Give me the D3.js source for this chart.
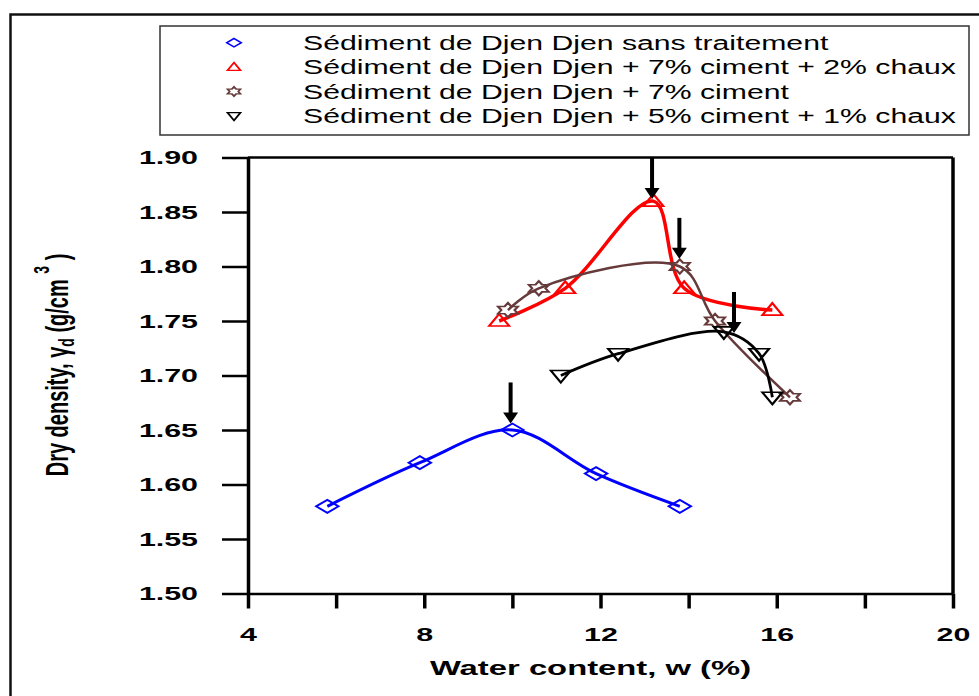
<!DOCTYPE html>
<html lang="en">
<head>
  <meta charset="UTF-8">
  <title>Dry density vs water content</title>
  <script src="https://d3js.org/d3.v7.min.js"></script>
  <style>
    body { margin: 0; background: #fff; }
    text { font-family: "Liberation Sans", Arial, sans-serif; }
  </style>
</head>
<body>
  <div id="chart-container"></div>

  <script>
    // Data
    const seriesNames = [
      'Sédiment de Djen Djen sans traitement',
      'Sédiment de Djen Djen + 7% ciment + 2% chaux',
      'Sédiment de Djen Djen + 7% ciment',
      'Sédiment de Djen Djen + 5% ciment + 1% chaux'
    ];
    const waterBlue = [5.8, 7.9, 10.0, 11.9, 13.8];
    const densBlue = [1.58, 1.62, 1.65, 1.61, 1.58];
    const waterRed = [9.7, 11.2, 13.2, 13.9, 15.9];
    const densRed = [1.75, 1.78, 1.86, 1.78, 1.76];
    const waterBrown = [9.9, 10.6, 13.8, 14.6, 16.3];
    const densBrown = [1.76, 1.78, 1.80, 1.75, 1.68];
    const waterBlack = [11.1, 12.4, 14.8, 15.6, 15.9];
    const densBlack = [1.70, 1.72, 1.74, 1.72, 1.68];

    // optimum arrows (x position and tip value)
    const arrowWater = [9.96, 13.17, 13.79, 15.03];
    const arrowDens = [1.656, 1.862, 1.807, 1.739];

    const xTicks = [4, 6, 8, 10, 12, 14, 16, 18, 20];
    const xLabels = [4, 8, 12, 16, 20];
    const yTicks = [1.50, 1.55, 1.60, 1.65, 1.70, 1.75, 1.80, 1.85, 1.90];

    const width = 979;
    const height = 696;
    const stretch = 1.6; // the original figure is stretched horizontally

    const svg = d3.select('#chart-container')
      .append('svg')
      .attr('width', width)
      .attr('height', height);

    svg.append('rect').attr('width', width).attr('height', height).attr('fill', '#fff');

    // outer frame (open to the right and bottom)
    svg.append('rect')
      .attr('x', 10.5).attr('y', 14.5)
      .attr('width', 1200).attr('height', 1200)
      .attr('fill', 'none').attr('stroke', '#111').attr('stroke-width', 2.5);

    const xScale = d3.scaleLinear().domain([4, 20]).range([248, 953]);
    const yScale = d3.scaleLinear().domain([1.5, 1.9]).range([593.5, 157.5]);

    // frame top / right
    svg.append('line')
      .attr('x1', xScale(4)).attr('x2', xScale(20))
      .attr('y1', yScale(1.9)).attr('y2', yScale(1.9))
      .attr('stroke', '#000').attr('stroke-width', 2.5);
    svg.append('line')
      .attr('x1', xScale(20)).attr('x2', xScale(20))
      .attr('y1', yScale(1.9)).attr('y2', yScale(1.5))
      .attr('stroke', '#000').attr('stroke-width', 3.5);

    // x axis
    const xAxis = svg.append('g')
      .attr('transform', `translate(0,${yScale(1.5)})`)
      .call(d3.axisBottom(xScale)
        .tickValues(xTicks)
        .tickSize(15)
        .tickSizeOuter(0)
        .tickPadding(19)
        .tickFormat(d => xLabels.includes(d) ? d : ''));
    xAxis.select('.domain').attr('stroke-width', 2.5);
    xAxis.selectAll('.tick line').attr('stroke-width', 3.5);
    xAxis.selectAll('.tick text')
      .attr('font-size', 19)
      .attr('font-weight', 'bold')
      .attr('fill', '#000')
      .attr('transform', `scale(${stretch},1)`);

    // y axis
    const yAxis = svg.append('g')
      .attr('transform', `translate(${xScale(4)},0)`)
      .call(d3.axisLeft(yScale)
        .tickValues(yTicks)
        .tickSize(26)
        .tickSizeOuter(0)
        .tickFormat(d3.format('.2f')));
    yAxis.select('.domain').attr('stroke-width', 3.5);
    yAxis.selectAll('.tick line').attr('stroke-width', 2.5);
    yAxis.selectAll('.tick text')
      .attr('font-size', 19)
      .attr('font-weight', 'bold')
      .attr('fill', '#000')
      .attr('x', -50 / stretch)
      .attr('transform', `scale(${stretch},1)`);

    // axis titles
    svg.append('text')
      .attr('transform', `translate(${(xScale(4) + xScale(20)) / 2 - 10},675) scale(1.64,1)`)
      .attr('text-anchor', 'middle')
      .attr('font-size', 20)
      .attr('font-weight', 'bold')
      .text('Water content, w (%)');

    const yTitle = svg.append('text')
      .attr('transform', `translate(68,365) scale(${stretch},1) rotate(-90)`)
      .attr('text-anchor', 'middle')
      .attr('font-size', 20)
      .attr('font-weight', 'bold');
    yTitle.append('tspan').text('Dry density, γ');
    yTitle.append('tspan').attr('font-size', 14).attr('dy', 4).text('d');
    yTitle.append('tspan').attr('dy', -4).text(' (g/cm ');
    yTitle.append('tspan').attr('font-size', 14).attr('dy', -12).text('3');
    yTitle.append('tspan').attr('dy', 12).text(' )');

    // marker shapes
    function hexagram(r) {
      const pts = [];
      for (let i = 0; i < 12; i++) {
        const a = -Math.PI / 2 + i * Math.PI / 6;
        const rr = i % 2 === 0 ? r : r / Math.sqrt(3);
        pts.push([rr * Math.cos(a), rr * Math.sin(a)]);
      }
      return 'M' + pts.map(p => p.join(',')).join('L') + 'Z';
    }
    const shapes = {
      diamond: 'M0,-6.5L7,0L0,6.5L-7,0Z',
      triUp: 'M0,-7L6.25,5L-6.25,5Z',
      star: hexagram(7.2),
      triDown: 'M0,7L6.25,-5L-6.25,-5Z'
    };

    const series = [
      { name: seriesNames[0], w: waterBlue, d: densBlue, color: '#0000ff', shape: 'diamond', lw: 3 },
      { name: seriesNames[1], w: waterRed, d: densRed, color: '#ff0000', shape: 'triUp', lw: 3.5 },
      { name: seriesNames[2], w: waterBrown, d: densBrown, color: '#663a3a', shape: 'star', lw: 2.5 },
      { name: seriesNames[3], w: waterBlack, d: densBlack, color: '#000000', shape: 'triDown', lw: 2.8 }
    ];

    const line = d3.line()
      .x(d => xScale(d[0]))
      .y(d => yScale(d[1]))
      .curve(d3.curveCatmullRom.alpha(0.5));

    series.forEach(s => {
      const pts = s.w.map((w, i) => [w, s.d[i]]);
      svg.append('path')
        .datum(pts)
        .attr('d', line)
        .attr('fill', 'none')
        .attr('stroke', s.color)
        .attr('stroke-width', s.lw);
      svg.append('g')
        .selectAll('path')
        .data(pts)
        .join('path')
        .attr('d', shapes[s.shape])
        .attr('transform', d => `translate(${xScale(d[0])},${yScale(d[1])}) scale(${stretch},1)`)
        .attr('fill', 'none')
        .attr('stroke', s.color)
        .attr('stroke-width', 1.6);
    });

    // arrows pointing at the optimum
    const arrows = svg.append('g');
    arrowWater.forEach((w, i) => {
      const x = xScale(w);
      const tip = yScale(arrowDens[i]);
      arrows.append('line')
        .attr('x1', x).attr('x2', x)
        .attr('y1', tip - 41).attr('y2', tip - 8)
        .attr('stroke', '#000').attr('stroke-width', 4);
      arrows.append('path')
        .attr('d', `M${x},${tip}L${x - 7.5},${tip - 11}L${x + 7.5},${tip - 11}Z`)
        .attr('fill', '#000');
    });

    // legend
    const legend = svg.append('g');
    legend.append('rect')
      .attr('x', 160).attr('y', 26)
      .attr('width', 809).attr('height', 109)
      .attr('fill', '#fff')
      .attr('stroke', '#333')
      .attr('stroke-width', 1.5);
    series.forEach((s, i) => {
      const cy = 42.7 + i * 24.4;
      legend.append('path')
        .attr('d', shapes[s.shape])
        .attr('transform', `translate(234,${cy}) scale(${stretch * 0.65},0.65)`)
        .attr('fill', 'none')
        .attr('stroke', s.color)
        .attr('stroke-width', 2);
      legend.append('text')
        .attr('transform', `translate(303,${cy + 7}) scale(1.51,1)`)
        .attr('font-size', 20)
        .attr('fill', '#000')
        .text(s.name);
    });
  </script>
</body>
</html>
